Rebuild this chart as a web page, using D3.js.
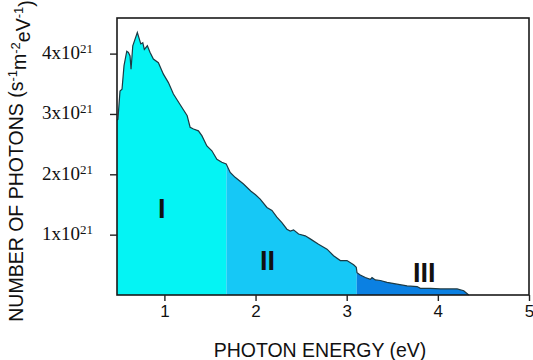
<!DOCTYPE html>
<html>
<head>
<meta charset="utf-8">
<script src="https://cdn.jsdelivr.net/npm/d3@7"></script>
<style>
  body { margin: 0; background: #fff; }
  svg { display: block; }
</style>
</head>
<body>
<svg id="chart" width="533" height="360"></svg>
<script>
// photon energy (eV) and photon flux (x10^21 s^-1 m^-2 eV^-1)
const energy = [0.48, 0.49, 0.513, 0.535, 0.557, 0.587, 0.605, 0.623, 0.634, 0.653, 0.703, 0.741, 0.763, 0.78, 0.813,
  0.843, 0.879, 0.934, 0.989, 1.044, 1.099, 1.17, 1.25, 1.282, 1.319, 1.373, 1.411, 1.466, 1.521, 1.576, 1.63,
  1.678, 1.722, 1.776, 1.868, 1.95, 2.0, 2.051, 2.125, 2.18, 2.234, 2.289, 2.344, 2.381, 2.417, 2.472, 2.545,
  2.6, 2.691, 2.784, 2.856, 2.93, 3.003, 3.076, 3.105, 3.113, 3.149, 3.204, 3.259, 3.278, 3.314, 3.369, 3.443,
  3.552, 3.662, 3.772, 3.808, 3.918, 4.028, 4.137, 4.211, 4.284, 4.339];
const photons = [2.9, 2.91, 3.38, 3.41, 3.8, 4.04, 4.02, 3.96, 3.74, 4.13, 4.35, 4.16, 4.18, 4.07, 4.13,
  4.02, 3.91, 3.85, 3.66, 3.52, 3.33, 3.16, 2.97, 2.78, 2.75, 2.72, 2.64, 2.47, 2.39, 2.25, 2.2,
  2.17, 2.03, 1.95, 1.84, 1.72, 1.66, 1.59, 1.45, 1.4, 1.29, 1.2, 1.09, 1.06, 1.08, 1.01, 0.98,
  0.93, 0.84, 0.76, 0.65, 0.57, 0.57, 0.5, 0.46, 0.37, 0.33, 0.29, 0.26, 0.29, 0.25, 0.24, 0.21,
  0.18, 0.15, 0.14, 0.11, 0.11, 0.1, 0.1, 0.1, 0.07, 0.0];

// spectral regions
const regionNames = ['I', 'II', 'III'];
const regionEdges = [0.48, 1.68, 3.11, 4.34];
const regionColours = ['#04f4f4', '#16c8f6', '#0b80e2'];
const regionLabelPos = [[0.97, 1.27], [2.13, 0.42], [3.85, 0.21]];

const xTicks = [1, 2, 3, 4, 5];
const yTicks = [1, 2, 3, 4];

const data = energy.map((e, i) => ({ e, v: photons[i] }));

const svg = d3.select('#chart');
const margin = { top: 18, right: 4, bottom: 65, left: 117 };
const W = +svg.attr('width'), H = +svg.attr('height');
const x = d3.scaleLinear().domain([0.48, 5]).range([margin.left, W - margin.right]);
const y = d3.scaleLinear().domain([0, 4.59]).range([H - margin.bottom, margin.top]);

const area = d3.area().x(d => x(d.e)).y0(y(0)).y1(d => y(d.v));
const line = d3.line().x(d => x(d.e)).y(d => y(d.v));

// one filled copy of the spectrum per region, clipped to its energy band
const defs = svg.append('defs');
regionNames.forEach((name, i) => {
  defs.append('clipPath').attr('id', 'clip' + i)
    .append('rect')
    .attr('x', x(regionEdges[i]))
    .attr('y', margin.top)
    .attr('width', x(regionEdges[i + 1]) - x(regionEdges[i]) + (i === 2 ? 2 : 0))
    .attr('height', y(0) - margin.top);
  svg.append('path')
    .datum(data)
    .attr('clip-path', `url(#clip${i})`)
    .attr('fill', regionColours[i])
    .attr('d', area);
});

svg.append('path')
  .datum(data)
  .attr('fill', 'none')
  .attr('stroke', '#1c3a44')
  .attr('stroke-width', 1.2)
  .attr('d', line);

// region labels
svg.selectAll('text.region')
  .data(regionNames)
  .join('text')
  .attr('class', 'region')
  .attr('x', (d, i) => x(regionLabelPos[i][0]))
  .attr('y', (d, i) => y(regionLabelPos[i][1]))
  .attr('text-anchor', 'middle')
  .style('font-family', 'Liberation Sans, Arial, sans-serif')
  .style('font-weight', 'bold')
  .style('font-size', '27px')
  .attr('fill', '#111')
  .text(d => d);

// frame
svg.append('rect')
  .attr('x', margin.left)
  .attr('y', margin.top)
  .attr('width', W - margin.right - margin.left)
  .attr('height', y(0) - margin.top)
  .attr('fill', 'none')
  .attr('stroke', '#1a1a1a')
  .attr('stroke-width', 1.6);

// x axis
const xAxis = svg.append('g')
  .attr('transform', `translate(0,${y(0)})`)
  .call(d3.axisBottom(x).tickValues(xTicks).tickSize(6).tickPadding(4).tickFormat(d3.format('d')));
xAxis.select('.domain').remove();
xAxis.selectAll('line').attr('stroke', '#222').attr('stroke-width', 1.4);
xAxis.selectAll('text')
  .style('font-family', 'Liberation Sans, Arial, sans-serif')
  .style('font-size', '17px')
  .attr('fill', '#111');

// y axis, labels like 4x10^21
const yAxis = svg.append('g')
  .attr('transform', `translate(${margin.left},0)`)
  .call(d3.axisLeft(y).tickValues(yTicks).tickSize(7).tickFormat(''));
yAxis.select('.domain').remove();
yAxis.selectAll('line').attr('stroke', '#222').attr('stroke-width', 1.4);
const yLab = yAxis.selectAll('g.tick').append('text')
  .attr('x', -24)
  .attr('dy', '0.25em')
  .attr('text-anchor', 'end')
  .attr('fill', '#111')
  .style('font-family', 'Liberation Serif, Times New Roman, serif')
  .style('font-size', '19px');
yLab.append('tspan').text(d => d + 'x10');
yLab.append('tspan').attr('dy', '-0.45em').style('font-size', '13px').text('21');

// axis titles
svg.append('text')
  .attr('x', 320)
  .attr('y', 357)
  .attr('text-anchor', 'middle')
  .attr('fill', '#111')
  .style('font-family', 'Liberation Sans, Arial, sans-serif')
  .style('font-size', '19.5px')
  .text('PHOTON ENERGY (eV)');

const yTitle = svg.append('text')
  .attr('transform', 'translate(23,161) rotate(-90)')
  .attr('text-anchor', 'middle')
  .attr('fill', '#111')
  .style('font-family', 'Liberation Sans, Arial, sans-serif')
  .style('font-size', '19.5px');
yTitle.append('tspan').text('NUMBER OF PHOTONS (s');
yTitle.append('tspan').attr('dy', '-0.5em').style('font-size', '13px').text('-1');
yTitle.append('tspan').attr('dy', '0.5em').text('m');
yTitle.append('tspan').attr('dy', '-0.5em').style('font-size', '13px').text('-2');
yTitle.append('tspan').attr('dy', '0.5em').text('eV');
yTitle.append('tspan').attr('dy', '-0.5em').style('font-size', '13px').text('-1');
yTitle.append('tspan').attr('dy', '0.5em').text(')');
</script>
</body>
</html>
